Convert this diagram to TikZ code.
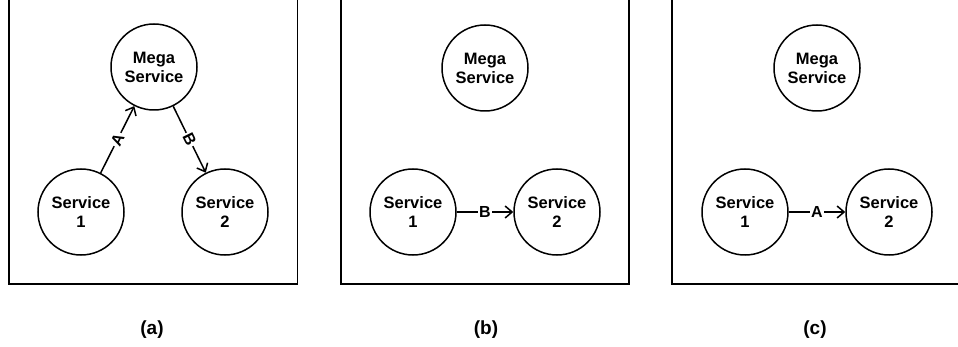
\documentclass[tikz,border=0pt]{standalone}
\usepackage{fontspec}
\setmainfont{Liberation Sans}
\usetikzlibrary{arrows.meta}
\begin{document}
\begin{tikzpicture}[x=1pt,y=-1pt,
  svc/.style={circle,draw,line width=1.5pt,minimum size=86pt,inner sep=0pt,align=center,font=\fontsize{16.5}{19}\selectfont\bfseries},
  panel/.style={draw,line width=1.3pt},
  conn/.style={line width=1.5pt,-{Straight Barb[length=7pt,width=12pt,line width=1.5pt]}},
  elabel/.style={fill=white,inner sep=1.5pt,font=\fontsize{16}{18}\selectfont\bfseries},
  captxt/.style={font=\fontsize{19}{22}\selectfont\bfseries}]
\useasboundingbox (0,0) rectangle (958,347);
% panels
\draw[panel] (9,-20) coordinate (pa1) rectangle (297.5,284) coordinate (pa2);
\draw[panel] (341,-20) coordinate (pb1) rectangle (629,284) coordinate (pb2);
\draw[panel] (672,-20) coordinate (pc1) rectangle (1000,284) coordinate (pc2);
% (a)
\node[svc] (am) at (154,67) {Mega\\Service};
\node[svc] (a1) at (81,212) {Service\\1};
\node[svc] (a2) at (225,212) {Service\\2};
\draw[conn] (a1) -- node[elabel,sloped] {A} (am);
\draw[conn] (am) -- node[elabel,sloped] {B} (a2);
% (b)
\node[svc] (bm) at (485,68) {Mega\\Service};
\node[svc] (b1) at (413,212) {Service\\1};
\node[svc] (b2) at (557,212) {Service\\2};
\draw[conn] (b1) -- node[elabel] {B} (b2);
% (c)
\node[svc] (cm) at (817,68) {Mega\\Service};
\node[svc] (c1) at (745,212) {Service\\1};
\node[svc] (c2) at (889,212) {Service\\2};
\draw[conn] (c1) -- node[elabel] {A} (c2);
% captions
\node[captxt] (la) at (152,330) {(a)};
\node[captxt] (lb) at (486,330) {(b)};
\node[captxt] (lc) at (815,330) {(c)};
\end{tikzpicture}
\end{document}
